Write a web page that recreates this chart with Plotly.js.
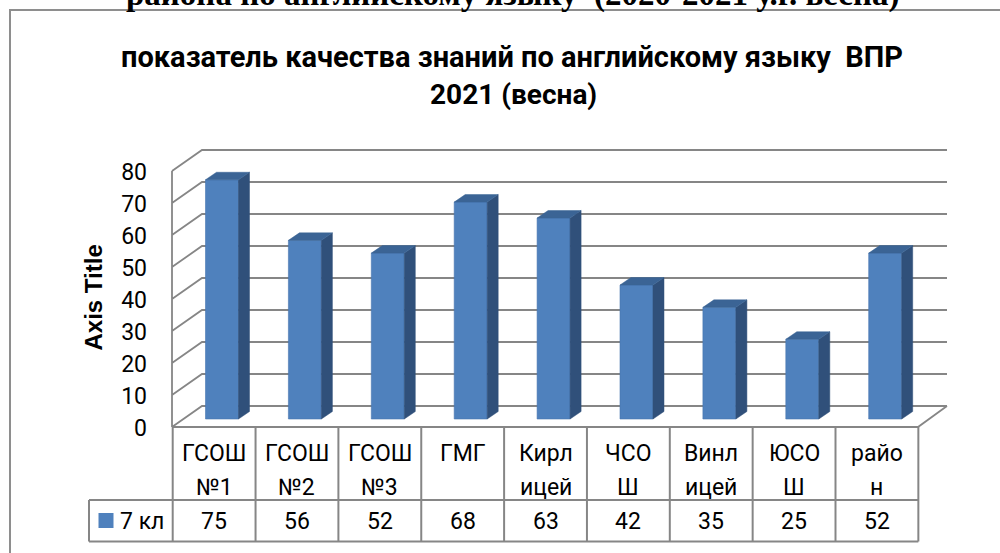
<!DOCTYPE html>
<html><head><meta charset="utf-8">
<script src="https://cdn.plot.ly/plotly-3.0.1.min.js"></script>
<style>html,body{margin:0;padding:0;background:#fff;} #chart{width:1000px;height:553px;}</style>
</head><body><div id="chart"></div>
<script>
// ---------------- data ----------------
const categories = ["ГСОШ №1","ГСОШ №2","ГСОШ №3","ГМГ","Кирлицей","ЧСОШ","Винлицей","ЮСОШ","район"];
const categoryLabels = ["ГСОШ<br>№1","ГСОШ<br>№2","ГСОШ<br>№3","ГМГ","Кирл<br>ицей","ЧСО<br>Ш","Винл<br>ицей","ЮСО<br>Ш","райо<br>н"];
const seriesName = "7 кл";
const values = [75,56,52,68,63,42,35,25,52];
const yTicks = [0,10,20,30,40,50,60,70,80];
const titleLines = ["показатель качества знаний по английскому языку  ВПР","2021 (весна)"];
const axisTitle = "Axis Title";
const pageHeading = "района по английскому языку  (2020-2021 у.г. весна)";

// ---------------- geometry (pixels) ----------------
const W=1000,H=553;
const M={l:170,r:40,t:140,b:120};
const PW=W-M.l-M.r, PH=H-M.t-M.b;
const plotBottom=H-M.b;
const CAT_PX=82.9, BAR0_PX=222, BASE_PY=419, VAL_PX=3.19;
const xr0=(M.l-BAR0_PX)/CAT_PX, xr1=xr0+PW/CAT_PX;
const yr0=-(plotBottom-BASE_PY)/VAL_PX, yr1=yr0+PH/VAL_PX;
const dX=px=>xr0+(px-M.l)/CAT_PX;
const dY=py=>yr0+(plotBottom-py)/VAL_PX;
const pX=px=>(px-M.l)/PW;
const pY=py=>(plotBottom-py)/PH;

const WALL={frontL:172,backL:202,frontR:918,backR:947,frontY0:427,backY0:406,step:3.2};
const LABEL_Y0=427.5, LABEL_STEP=3.2;
const BAR_W_PX=33, DEPTH_DX=11, DEPTH_DY=7.5;
const TABLE={left:172.7,col:82.85,legendLeft:89,rowMid:500,bottom:541.5,line1:453,line2:487,valY:521.5};

const GRID_COLOR="#868686", FRONT="#4F81BD", SIDE="#30507A", TOP="#3B6495";
const FONT="Roboto";

// walls & grid, as a path in data units (drawn below the bars)
const vmax=yTicks[yTicks.length-1];
const pt=(px,py)=>dX(px)+','+dY(py);
let gridPath='';
yTicks.forEach(v=>{
  const yf=WALL.frontY0-v*WALL.step, yb=WALL.backY0-v*WALL.step;
  gridPath+='M'+pt(WALL.frontL,yf)+'L'+pt(WALL.backL,yb)+'L'+pt(WALL.backR,yb);
});
gridPath+='M'+pt(WALL.frontL,WALL.frontY0)+'L'+pt(WALL.frontL,WALL.frontY0-vmax*WALL.step);
gridPath+='M'+pt(WALL.frontL,WALL.frontY0)+'L'+pt(WALL.frontR,WALL.frontY0)+'L'+pt(WALL.backR,WALL.backY0);

// bar 3D faces
const bw=BAR_W_PX/CAT_PX, ddx=DEPTH_DX/CAT_PX, ddy=DEPTH_DY/VAL_PX;
const sx=[],sy=[],tx=[],ty=[];
values.forEach((v,i)=>{
  const l=i-bw/2,r=i+bw/2;
  sx.push(r,r+ddx,r+ddx,r,r,null); sy.push(0,ddy,v+ddy,v,0,null);
  tx.push(l,r,r+ddx,l+ddx,l,null); ty.push(v,v,v+ddy,v+ddy,v,null);
});

const traces=[
  {type:'bar',name:seriesName,x:values.map((_,i)=>i),y:values,width:bw,marker:{color:FRONT,line:{color:'#4876B0',width:0.6}},showlegend:false},
  {type:'scatter',mode:'lines',x:sx,y:sy,fill:'toself',fillcolor:SIDE,line:{color:SIDE,width:0.5},hoverinfo:'skip',showlegend:false},
  {type:'scatter',mode:'lines',x:tx,y:ty,fill:'toself',fillcolor:TOP,line:{color:TOP,width:0.5},hoverinfo:'skip',showlegend:false},
  {type:'scatter',mode:'markers',x:[0],y:[0],yaxis:'y2',marker:{opacity:0},hoverinfo:'skip',showlegend:false}
];

// annotations
const ann=[];
ann.push({text:pageHeading,xref:'paper',yref:'paper',x:pX(512),y:pY(15),xanchor:'center',yanchor:'bottom',showarrow:false,font:{family:'Liberation Serif',size:33,color:'#000',weight:'bold'}});
ann.push({text:'<b>'+titleLines[0]+'</b>',xref:'paper',yref:'paper',x:pX(512),y:pY(57),xanchor:'center',yanchor:'middle',showarrow:false,font:{family:FONT,size:29,color:'#000'}});
ann.push({text:'<b>'+titleLines[1]+'</b>',xref:'paper',yref:'paper',x:pX(513),y:pY(95),xanchor:'center',yanchor:'middle',showarrow:false,font:{family:FONT,size:28,color:'#000'}});
ann.push({text:'<b>'+axisTitle+'</b>',xref:'paper',yref:'paper',x:pX(92.5),y:pY(298),textangle:-90,xanchor:'center',yanchor:'middle',showarrow:false,font:{family:'Liberation Sans',size:24,color:'#000'}});
categoryLabels.forEach((lab,k)=>{
  const cx=TABLE.left+TABLE.col*(k+0.5);
  const parts=lab.split('<br>');
  ann.push({text:parts[0],xref:'paper',yref:'paper',x:pX(cx),y:pY(TABLE.line1),xanchor:'center',yanchor:'middle',showarrow:false,font:{family:FONT,size:23,color:'#000'}});
  if(parts[1]) ann.push({text:parts[1],xref:'paper',yref:'paper',x:pX(cx),y:pY(TABLE.line2),xanchor:'center',yanchor:'middle',showarrow:false,font:{family:FONT,size:23,color:'#000'}});
  ann.push({text:String(values[k]),xref:'paper',yref:'paper',x:pX(cx),y:pY(TABLE.valY),xanchor:'center',yanchor:'middle',showarrow:false,font:{family:FONT,size:23,color:'#000'}});
});
ann.push({text:seriesName,xref:'paper',yref:'paper',x:pX(118),y:pY(TABLE.valY),xanchor:'left',yanchor:'middle',showarrow:false,font:{family:FONT,size:23,color:'#000'}});

// shapes
const shp=[];
const L={color:GRID_COLOR,width:2};
shp.push({type:'path',xref:'x',yref:'y',path:gridPath,line:{color:GRID_COLOR,width:1.8},layer:'below'});
shp.push({type:'rect',xref:'paper',yref:'paper',x0:pX(10),y0:pY(10),x1:pX(1012),y1:pY(570),line:{color:'#8e8e8e',width:2},fillcolor:'rgba(0,0,0,0)',layer:'below'});
for(let k=0;k<=categories.length;k++){
  const x=TABLE.left+TABLE.col*k;
  shp.push({type:'line',xref:'paper',yref:'paper',x0:pX(x),x1:pX(x),y0:pY(WALL.frontY0),y1:pY(TABLE.bottom),line:L});
}
const tr=TABLE.left+TABLE.col*categories.length;
shp.push({type:'line',xref:'paper',yref:'paper',x0:pX(TABLE.legendLeft),x1:pX(tr),y0:pY(TABLE.rowMid),y1:pY(TABLE.rowMid),line:L});
shp.push({type:'line',xref:'paper',yref:'paper',x0:pX(TABLE.legendLeft),x1:pX(tr),y0:pY(TABLE.bottom),y1:pY(TABLE.bottom),line:L});
shp.push({type:'line',xref:'paper',yref:'paper',x0:pX(TABLE.legendLeft),x1:pX(TABLE.legendLeft),y0:pY(TABLE.rowMid),y1:pY(TABLE.bottom),line:L});
shp.push({type:'rect',xref:'paper',yref:'paper',x0:pX(98.5),x1:pX(113.5),y0:pY(513),y1:pY(528),fillcolor:FRONT,line:{width:0}});

const y2r0=-(plotBottom-LABEL_Y0)/LABEL_STEP, y2r1=y2r0+PH/LABEL_STEP;

const layout={
  width:W,height:H,margin:M,paper_bgcolor:'#fff',plot_bgcolor:'rgba(0,0,0,0)',
  showlegend:false,bargap:0,
  xaxis:{range:[xr0,xr1],visible:false,fixedrange:true},
  yaxis:{range:[yr0,yr1],visible:false,fixedrange:true},
  yaxis2:{range:[y2r0,y2r1],overlaying:'y',side:'left',anchor:'x',tickvals:yTicks,ticktext:yTicks.map(String),
    showgrid:false,zeroline:false,showline:false,ticks:'',ticklabelstandoff:22,
    tickfont:{family:FONT,size:23,color:'#000'},fixedrange:true},
  annotations:ann,shapes:shp
};
Plotly.newPlot('chart',traces,layout,{staticPlot:true,displayModeBar:false});
</script>
</body></html>
